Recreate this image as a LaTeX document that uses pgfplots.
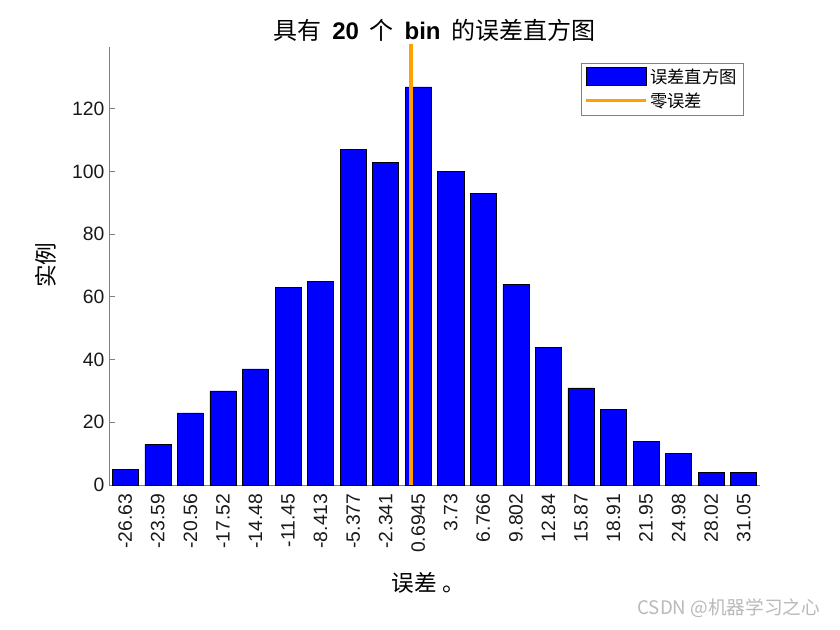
\documentclass[border=0pt]{standalone}
\usepackage{fontspec}
\setmainfont{Liberation Sans}
\newfontfamily\cjk{Noto Sans CJK SC}
\usepackage{pgfplots}
\pgfplotsset{compat=1.18}
\definecolor{axgray}{RGB}{128,128,128}
\definecolor{zeroorange}{RGB}{255,160,0}
\definecolor{txt}{RGB}{25,25,25}
\definecolor{wm}{RGB}{185,185,185}
\pgfplotstableread{
idx count
0 5
1 13
2 23
3 30
4 37
5 63
6 65
7 107
8 103
9 127
10 100
11 93
12 64
13 44
14 31
15 24
16 14
17 10
18 4
19 4
}\errtable
\begin{document}
\begin{tikzpicture}
\path[use as bounding box] (-81.75pt,-108.75pt) rectangle (548.25pt,363.75pt);
\begin{axis}[
  at={(0pt,0pt)}, anchor=south west,
  scale only axis, width=488.25pt, height=328.5pt,
  xmin=-0.5, xmax=19.5, ymin=0, ymax=139.7,
  axis x line*=bottom, axis y line*=left,
  axis line style={draw=axgray, line width=0.6pt},
  xtick={0,...,19},
  xticklabels={-26.63,-23.59,-20.56,-17.52,-14.48,-11.45,-8.413,-5.377,-2.341,0.6945,3.73,6.766,9.802,12.84,15.87,18.91,21.95,24.98,28.02,31.05},
  x tick label style={yshift=-3pt, rotate=90, anchor=east, font=\fontsize{14.5}{16}\selectfont, text=txt},
  y tick label style={font=\fontsize{14.5}{16}\selectfont, text=txt},
  ytick={0,20,...,120},
  /pgf/number format/assume math mode=true,
  tick align=inside,
  major tick length=4.5pt,
  major x tick style={draw=none},
  y tick style={draw=axgray, line width=0.6pt},
  title={\cjk 具有\ \ \textbf{\rmfamily 20}\ \ 个\ \ \textbf{\rmfamily bin}\ \ 的误差直方图},
  title style={at={(axis description cs:0.5,1)}, anchor=center, yshift=6.75pt, font=\fontsize{18}{20}\selectfont},
  xlabel={\cjk 误差 。},
  xlabel style={at={(axis description cs:0.4908,0)}, anchor=center, yshift=-73.1pt, font=\fontsize{17}{19}\selectfont},
  ylabel={\cjk 实例},
  ylabel style={at={(axis description cs:-0.0968,0.502)}, anchor=center, font=\fontsize{17}{19}\selectfont},
  legend style={at={(axis description cs:0.974,0.9635)}, anchor=north east, draw=axgray, fill=white, font=\cjk\fontsize{13}{15}\selectfont, row sep=1pt, inner sep=2.5pt},
  legend cell align=left,
  clip=false,
]
\addplot[ybar, bar width=0.8, fill=blue, draw=black, line width=0.4pt,
  legend image code/.code={\draw[fill=blue,draw=black,line width=0.4pt] (0pt,-5.5pt) rectangle (45pt,7.5pt);}]
  table[x=idx, y=count] {\errtable};
\addlegendentry{误差直方图}
\addplot[zeroorange, line width=2.6pt, mark=none,
  legend image code/.code={\draw[zeroorange,line width=2.4pt] (0pt,0pt) -- (45pt,0pt);}]
  coordinates {(8.771,0) (8.771,140.5)};
\addlegendentry{零误差}
\end{axis}
\node[anchor=east, text=wm, font=\cjk\fontsize{14}{16}\selectfont] at (537pt,-92.25pt) {CSDN @机器学习之心};
\end{tikzpicture}
\end{document}
